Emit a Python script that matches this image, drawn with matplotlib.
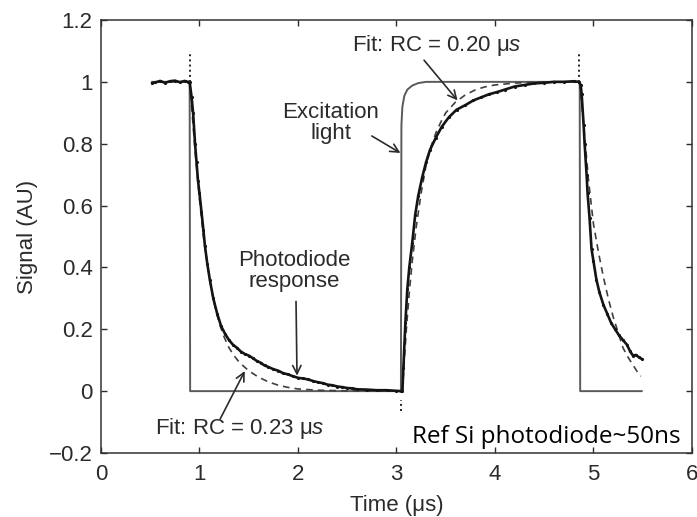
import matplotlib

matplotlib.use("Agg")
import matplotlib.pyplot as plt

plt.rcParams["font.family"] = ["Liberation Sans", "DejaVu Sans"]
plt.rcParams["mathtext.fontset"] = "custom"
plt.rcParams["mathtext.rm"] = "Liberation Sans"
plt.rcParams["mathtext.it"] = "Liberation Sans:italic"

# ---------------------------------------------------------------------------
# Data
# ---------------------------------------------------------------------------

# excitation light (solid grey trace)
exc_t = [0.52, 0.90, 0.905, 3.045, 3.05, 3.06, 3.08, 3.11, 3.16, 3.22, 3.30,
         4.86, 4.865, 5.49]
exc_v = [1.0, 1.0, 0.0, 0.0, 0.86, 0.92, 0.955, 0.975, 0.988, 0.996, 1.0,
         1.0, 0.0, 0.0]

# photodiode response (noisy black trace)
pd_t = [0.52, 0.55, 0.60, 0.65, 0.70, 0.75, 0.80, 0.85, 0.88, 0.90,
        0.92, 0.935, 0.955, 0.97, 0.985, 1.00, 1.02, 1.04, 1.055, 1.08,
        1.105, 1.14, 1.18, 1.22, 1.26, 1.30, 1.34, 1.38, 1.42, 1.46,
        1.50, 1.54, 1.58, 1.62, 1.66, 1.70, 1.75, 1.80, 1.85, 1.90,
        1.95, 2.00, 2.05, 2.10, 2.15, 2.20, 2.25, 2.30, 2.35, 2.40,
        2.45, 2.50, 2.55, 2.60, 2.70, 2.80, 2.90, 3.00, 3.05, 3.06,
        3.07, 3.09, 3.11, 3.13, 3.16, 3.19, 3.22, 3.26, 3.30, 3.34,
        3.40, 3.46, 3.53, 3.61, 3.70, 3.78, 3.86, 3.94, 4.02, 4.10,
        4.20, 4.30, 4.40, 4.50, 4.60, 4.70, 4.80, 4.85, 4.87, 4.88,
        4.90, 4.91, 4.93, 4.94, 4.96, 4.98, 5.00, 5.03, 5.06, 5.10,
        5.14, 5.18, 5.22, 5.26, 5.30, 5.34, 5.37, 5.40, 5.43, 5.46,
        5.49]
pd_v = [0.996, 0.998, 1.003, 0.997, 1.002, 1.004, 0.999, 1.003, 1.0, 1.0,
        0.95, 0.90, 0.80, 0.74, 0.68, 0.64, 0.58, 0.52, 0.47, 0.41,
        0.36, 0.30, 0.25, 0.21, 0.185, 0.165, 0.15, 0.14, 0.128, 0.12,
        0.115, 0.107, 0.098, 0.092, 0.083, 0.078, 0.071, 0.066, 0.058, 0.054,
        0.048, 0.043, 0.041, 0.038, 0.033, 0.029, 0.026, 0.021, 0.019, 0.015,
        0.013, 0.010, 0.009, 0.006, 0.005, 0.003, 0.003, 0.001, 0.0, 0.0,
        0.075, 0.22, 0.33, 0.40, 0.48, 0.57, 0.63, 0.69, 0.74, 0.78,
        0.82, 0.855, 0.885, 0.91, 0.925, 0.94, 0.95, 0.96, 0.967, 0.975,
        0.985, 0.99, 0.995, 0.997, 1.0, 1.0, 1.002, 1.0, 0.99, 0.96,
        0.86, 0.80, 0.70, 0.64, 0.56, 0.46, 0.42, 0.36, 0.32, 0.28,
        0.25, 0.22, 0.20, 0.18, 0.165, 0.15, 0.13, 0.115, 0.117, 0.11,
        0.104]

# dotted switching spikes
spike_t = [0.90, 3.05, 4.85]
spike_lo = [1.0, -0.065, 1.0]
spike_hi = [1.10, -0.03, 1.10]

# dashed RC fits
fit1_t = [0.90, 0.93, 0.96, 1.00, 1.04, 1.08, 1.12, 1.16, 1.20, 1.25,
          1.30, 1.35, 1.40, 1.45, 1.50, 1.60, 1.70, 1.80, 1.90, 2.00,
          2.20, 2.50, 3.00]
fit1_v = [1.0, 0.88, 0.76, 0.62, 0.50, 0.41, 0.33, 0.27, 0.22, 0.175,
          0.14, 0.115, 0.095, 0.08, 0.066, 0.045, 0.030, 0.019, 0.012, 0.007,
          0.003, 0.001, 0.0]
fit2_t = [3.06, 3.08, 3.10, 3.13, 3.16, 3.20, 3.25, 3.30, 3.35, 3.40,
          3.45, 3.50, 3.60, 3.70, 3.80, 3.90, 4.00, 4.20, 4.50, 4.85]
fit2_v = [0.0, 0.10, 0.20, 0.32, 0.42, 0.53, 0.64, 0.73, 0.79, 0.835,
          0.87, 0.90, 0.935, 0.958, 0.974, 0.984, 0.99, 0.996, 1.0, 1.0]
fit3_t = [4.86, 4.90, 4.95, 5.00, 5.05, 5.10, 5.15, 5.20, 5.25, 5.30,
          5.35, 5.40, 5.45, 5.48]
fit3_v = [1.0, 0.86, 0.68, 0.54, 0.45, 0.37, 0.30, 0.24, 0.19, 0.14,
          0.11, 0.085, 0.06, 0.048]

xticks = [0, 1, 2, 3, 4, 5, 6]
yticks = [-0.2, 0, 0.2, 0.4, 0.6, 0.8, 1.0, 1.2]
ytick_labels = ["\u22120.2", "0", "0.2", "0.4", "0.6", "0.8", "1", "1.2"]

# ---------------------------------------------------------------------------
# Plot
# ---------------------------------------------------------------------------

INK = "#2b2b2b"
FS = 16

fig = plt.figure(figsize=(6.97, 5.17), dpi=100, facecolor="white")
ax = fig.add_axes([0.1449, 0.1238, 0.8479, 0.8375])

ax.plot(exc_t, exc_v, color="#5a5a5a", linewidth=1.4, zorder=2)
ax.plot(fit1_t, fit1_v, color="#404040", linewidth=1.2, dashes=(4, 3), zorder=3)
ax.plot(fit2_t, fit2_v, color="#404040", linewidth=1.2, dashes=(4, 3), zorder=3)
ax.plot(fit3_t, fit3_v, color="#404040", linewidth=1.2, dashes=(4, 3), zorder=3)
ax.plot(pd_t, pd_v, color="#141414", linewidth=1.9, marker=".", markersize=2.5,
        zorder=4)
ax.vlines(spike_t, spike_lo, spike_hi, colors="#222222", linestyles=":",
          linewidth=1.4, zorder=4)

arrow = dict(arrowstyle="->", color=INK, lw=1.2, shrinkA=0, shrinkB=0,
             mutation_scale=15)

ax.text(2.55, 1.117, "Fit: RC = 0.20 \u03bc$s$", fontsize=FS, color=INK,
        ha="left", va="center")
ax.annotate("", xy=(3.62, 0.94), xytext=(3.28, 1.07), arrowprops=arrow)

ax.text(2.335, 0.868, "Excitation\nlight", fontsize=FS, color=INK,
        ha="center", va="center", linespacing=1.0)
ax.annotate("", xy=(3.04, 0.77), xytext=(2.75, 0.825), arrowprops=arrow)

ax.text(1.96, 0.39, "Photodiode\nresponse", fontsize=FS, color=INK,
        ha="center", va="center", linespacing=1.0)
ax.annotate("", xy=(1.99, 0.05), xytext=(1.98, 0.29), arrowprops=arrow)

ax.text(0.55, -0.12, "Fit: RC = 0.23 \u03bc$s$", fontsize=FS, color=INK,
        ha="left", va="center")
ax.annotate("", xy=(1.46, 0.065), xytext=(1.21, -0.09), arrowprops=arrow)

ax.text(3.16, -0.147, "Ref Si photodiode~50ns", fontsize=17.5, color="black",
        family="Open Sans", ha="left", va="center", zorder=6)

ax.set_xlim(0, 6)
ax.set_ylim(-0.2, 1.2)
ax.set_xticks(xticks)
ax.set_yticks(yticks)
ax.set_yticklabels(ytick_labels)
ax.set_xlabel("Time (\u03bcs)", fontsize=FS, color=INK, labelpad=7)
ax.set_ylabel("Signal (AU)", fontsize=FS, color=INK, labelpad=8)

ax.tick_params(direction="in", length=4, width=1.0, top=True, right=True,
               labelsize=FS, colors=INK, pad=8)
ax.tick_params(axis="y", pad=6)
for side in ax.spines.values():
    side.set_color("#333333")
    side.set_linewidth(1.1)

fig.savefig("out.png", dpi=100, facecolor="white")
plt.close(fig)
